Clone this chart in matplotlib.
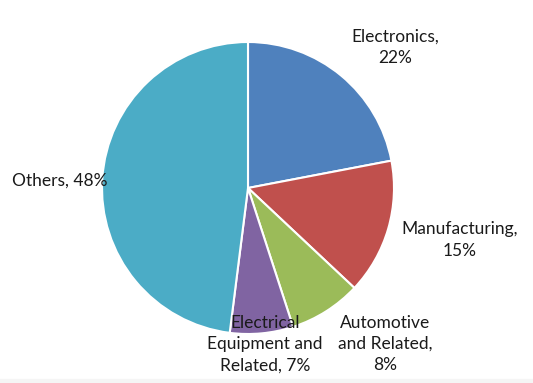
import matplotlib.pyplot as plt
from matplotlib.patches import Rectangle

categories = ["Electronics", "Manufacturing", "Automotive\nand Related", "Electrical\nEquipment and\nRelated", "Others"]
shares = [22, 15, 8, 7, 48]
label_text = ["Electronics,\n22%", "Manufacturing,\n15%", "Automotive\nand Related,\n8%",
              "Electrical\nEquipment and\nRelated, 7%", "Others, 48%"]
colors = ["#4F81BD", "#C0504D", "#9BBB59", "#8064A2", "#4BACC6"]

# label positions in pie-radius units (centre = 0,0)
label_pos = [(1.007, 0.966), (1.452, -0.356), (0.938, -1.068), (0.116, -1.068), (-1.288, 0.048)]

plt.rcParams['font.family'] = ['Lato', 'DejaVu Sans']

fig = plt.figure(figsize=(5.33, 3.83), dpi=100)
ax = fig.add_axes([0, 0, 1, 1])
ax.pie(shares, colors=colors, startangle=90, counterclock=False, radius=1.0,
       wedgeprops=dict(edgecolor="white", linewidth=1.5))
for txt, (x, y) in zip(label_text, label_pos):
    ax.text(x, y, txt, ha="center", va="center", fontsize=12.5, color="#1a1a1a", linespacing=1.4)

ax.set_xlim(-248 / 146, 285 / 146)
ax.set_ylim(-195 / 146, 188 / 146)
ax.set_aspect("auto")
ax.axis("off")

fig.patches.append(Rectangle((0, 0), 1, 4 / 383, transform=fig.transFigure, color="#f5f5f5", zorder=0))

fig.savefig("out.png", dpi=100)
